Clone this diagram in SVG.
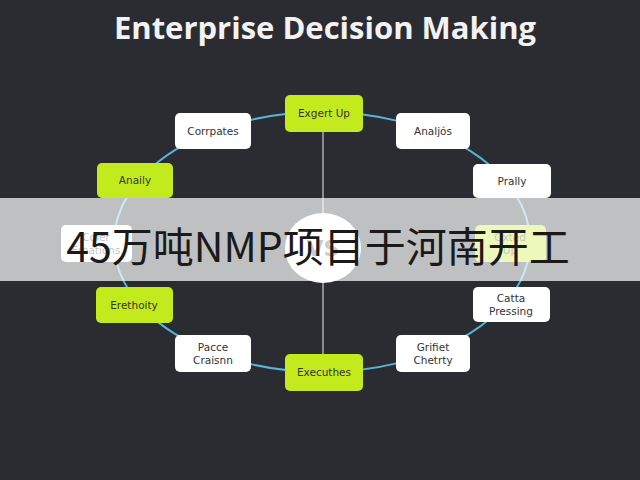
<svg xmlns="http://www.w3.org/2000/svg" width="640" height="480" viewBox="0 0 640 480">
<style>
.bg{fill:#2a2c31}
.w{fill:#ffffff}
.g{fill:#c2ea1c}
.t{font-family:"DejaVu Sans","Liberation Sans",sans-serif;font-size:10.5px;fill:#333333;text-anchor:middle}
.title{font-family:"Open Sans","Liberation Sans",sans-serif;font-weight:bold;font-size:31px;fill:#f2f2f2;text-anchor:middle}
.cn{font-family:"Noto Sans CJK SC","Noto Sans",sans-serif;font-size:41px;fill:#1a1a1a;text-anchor:middle}
</style>
<rect class="bg" x="0" y="0" width="640" height="480"/>
<text class="title" x="325" y="39">Enterprise Decision Making</text>
<g id="connectors">
<ellipse cx="322" cy="242" rx="208" ry="130" fill="none" stroke="#5ab4d6" stroke-width="2"/>
<line x1="323" y1="132" x2="323" y2="354" stroke="#8c8c8c" stroke-width="2"/>
</g>
<g id="center"><ellipse cx="323" cy="248" rx="38" ry="35" class="w"/><text x="323" y="256" style="font-family:'DejaVu Sans',sans-serif;font-weight:bold;font-size:22px;fill:#555;text-anchor:middle">VS</text></g>
<g id="n-top"><rect class="g" x="285" y="95" width="78" height="37" rx="5"/><text class="t" x="324" y="117">Exgert Up</text></g>
<g id="n-corrpates"><rect class="w" x="175" y="113" width="76" height="36" rx="5"/><text class="t" x="213" y="135">Corrpates</text></g>
<g id="n-analjos"><rect class="w" x="396" y="113" width="74" height="36" rx="5"/><text class="t" x="433" y="135">Analjós</text></g>
<g id="n-anaily"><rect class="g" x="97" y="163" width="76" height="35" rx="5"/><text class="t" x="135" y="184">Anaily</text></g>
<g id="n-prally"><rect class="w" x="473" y="164" width="78" height="34" rx="5"/><text class="t" x="512" y="185">Prally</text></g>
<g id="n-coler"><rect class="w" x="61" y="225" width="71" height="37" rx="5"/><text class="t" x="96" y="241">Coler</text><text class="t" x="96" y="254">Emations</text></g>
<g id="n-oxted"><rect class="g" x="475" y="225" width="71" height="37" rx="5"/><text class="t" x="510" y="241">Oxted</text><text class="t" x="510" y="254">Up</text></g>
<g id="n-erethoity"><rect class="g" x="96" y="287" width="77" height="36" rx="5"/><text class="t" x="134" y="309">Erethoity</text></g>
<g id="n-catta"><rect class="w" x="473" y="287" width="77" height="35" rx="5"/><text class="t" x="511" y="302">Catta</text><text class="t" x="511" y="315">Pressing</text></g>
<g id="n-pacce"><rect class="w" x="175" y="335" width="76" height="37" rx="5"/><text class="t" x="213" y="351">Pacce</text><text class="t" x="213" y="364">Craisnn</text></g>
<g id="n-executhes"><rect class="g" x="285" y="354" width="78" height="37" rx="5"/><text class="t" x="324" y="376">Executhes</text></g>
<g id="n-grifiet"><rect class="w" x="396" y="335" width="74" height="37" rx="5"/><text class="t" x="433" y="351">Grifiet</text><text class="t" x="433" y="364">Chetrty</text></g>
<rect x="0" y="198" width="640" height="83" fill="#ffffff" fill-opacity="0.7"/>
<text class="cn" x="318" y="262">45万吨NMP项目于河南开工</text>
</svg>
